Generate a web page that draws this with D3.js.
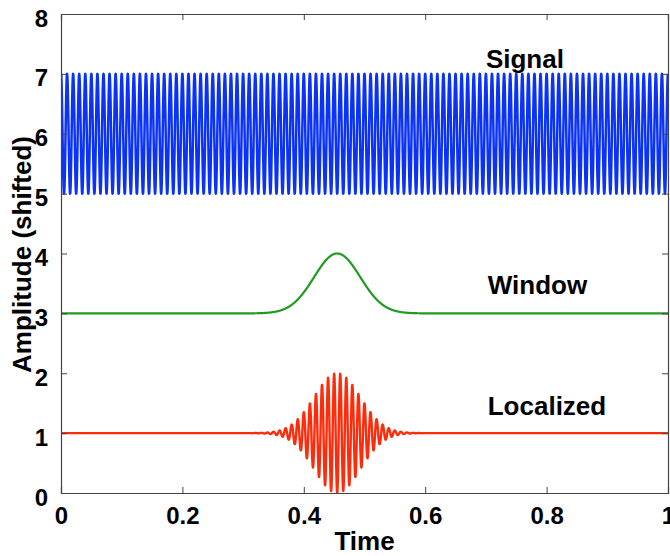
<!DOCTYPE html>
<html>
<head>
<meta charset="utf-8">
<script src="https://cdn.jsdelivr.net/npm/d3@7"></script>
<style>
  body { margin: 0; background: #fff; }
  svg { display: block; }
  text { font-family: "Liberation Sans", Arial, Helvetica, sans-serif; font-weight: bold; fill: #000; }
</style>
</head>
<body>
<svg id="chart" width="670" height="556"></svg>
<script>
// ---- data ----
const xDomain = [0, 1];
const yDomain = [0, 8];
const xTicks = [0, 0.2, 0.4, 0.6, 0.8, 1];
const yTicks = [0, 1, 2, 3, 4, 5, 6, 7, 8];
const seriesNames = ["Signal", "Window", "Localized"];
const seriesOffsets = [6, 3, 1];           // vertical shift of each trace
const seriesColors = ["#0a32f8", "#1f9c1f", "#ff2c0c"];
const labelX = [0.700, 0.703, 0.703];       // annotation positions (data units)
const labelY = [7.10, 3.32, 1.30];
const signalCycles = [100];                 // oscillations over the time span
const windowCenter = [0.455];
const windowSigma = [0.038];
const sampleCount = [6000];

// ---- layout ----
const svg = d3.select("#chart");
const m = { left: 61, right: 668, top: 14, bottom: 493 };
const x = d3.scaleLinear().domain(xDomain).range([m.left, m.right]);
const y = d3.scaleLinear().domain(yDomain).range([m.bottom, m.top]);

// ---- traces ----
const ts = d3.range(sampleCount[0] + 1).map(i => i / sampleCount[0]);
const osc = t => Math.cos(2 * Math.PI * signalCycles[0] * t);
const env = t => Math.exp(-((t - windowCenter[0]) ** 2) / (2 * windowSigma[0] ** 2));
const traces = [
  ts.map(t => [t, seriesOffsets[0] + osc(t)]),
  ts.map(t => [t, seriesOffsets[1] + env(t)]),
  ts.map(t => [t, seriesOffsets[2] + osc(t) * env(t)])
];

svg.append("clipPath").attr("id", "clip").append("rect")
  .attr("x", m.left).attr("y", m.top)
  .attr("width", m.right - m.left).attr("height", m.bottom - m.top);

const line = d3.line().x(d => x(d[0])).y(d => y(d[1]));
const g = svg.append("g").attr("clip-path", "url(#clip)");
const strokeWidths = [2.5, 2.2, 2.4];
traces.forEach((tr, i) => {
  g.append("path").datum(tr)
    .attr("d", line)
    .attr("fill", "none")
    .attr("stroke", seriesColors[i])
    .attr("stroke-width", strokeWidths[i])
    .attr("stroke-linejoin", "round");
});

// ---- axes (MATLAB box with inward ticks) ----
const axisColor = "#444";
const tickLen = 6;
const bottomAxis = d3.axisBottom(x).tickValues(xTicks).tickSize(-tickLen).tickPadding(14)
  .tickFormat(d => d === 0 || d === 1 ? String(d) : d3.format(".1f")(d));
const topAxis = d3.axisTop(x).tickValues(xTicks).tickSize(-tickLen).tickFormat("");
const leftAxis = d3.axisLeft(y).tickValues(yTicks).tickSize(-tickLen).tickPadding(13)
  .tickFormat(d3.format("d"));
const rightAxis = d3.axisRight(y).tickValues(yTicks).tickSize(-tickLen).tickFormat("");

function styleAxis(sel) {
  sel.select(".domain").attr("stroke", axisColor).attr("stroke-width", 1.2);
  sel.selectAll(".tick line").attr("stroke", axisColor).attr("stroke-width", 1);
  sel.selectAll(".tick text")
    .attr("font-family", "'Liberation Sans', Arial, sans-serif")
    .attr("font-weight", "bold").attr("font-size", 24).attr("fill", "#000");
}

svg.append("g").attr("transform", `translate(0,${m.bottom})`).call(bottomAxis).call(styleAxis)
  .selectAll(".tick text").attr("dy", "0.71em");
svg.append("g").attr("transform", `translate(0,${m.top})`).call(topAxis).call(styleAxis);
svg.append("g").attr("transform", `translate(${m.left},0)`).call(leftAxis).call(styleAxis)
  .selectAll(".tick text").attr("dy", "0.5em");
svg.append("g").attr("transform", `translate(${m.right},0)`).call(rightAxis).call(styleAxis);

// ---- annotations ----
seriesNames.forEach((name, i) => {
  svg.append("text")
    .attr("x", x(labelX[i])).attr("y", y(labelY[i]))
    .attr("font-size", 26)
    .text(name);
});

// ---- axis titles ----
svg.append("text")
  .attr("x", (m.left + m.right) / 2).attr("y", 550)
  .attr("text-anchor", "middle").attr("font-size", 26)
  .text("Time");
svg.append("text")
  .attr("transform", `translate(31,${(m.top + m.bottom) / 2 + 1}) rotate(-90)`)
  .attr("text-anchor", "middle").attr("font-size", 26)
  .text("Amplitude (shifted)");
</script>
</body>
</html>
